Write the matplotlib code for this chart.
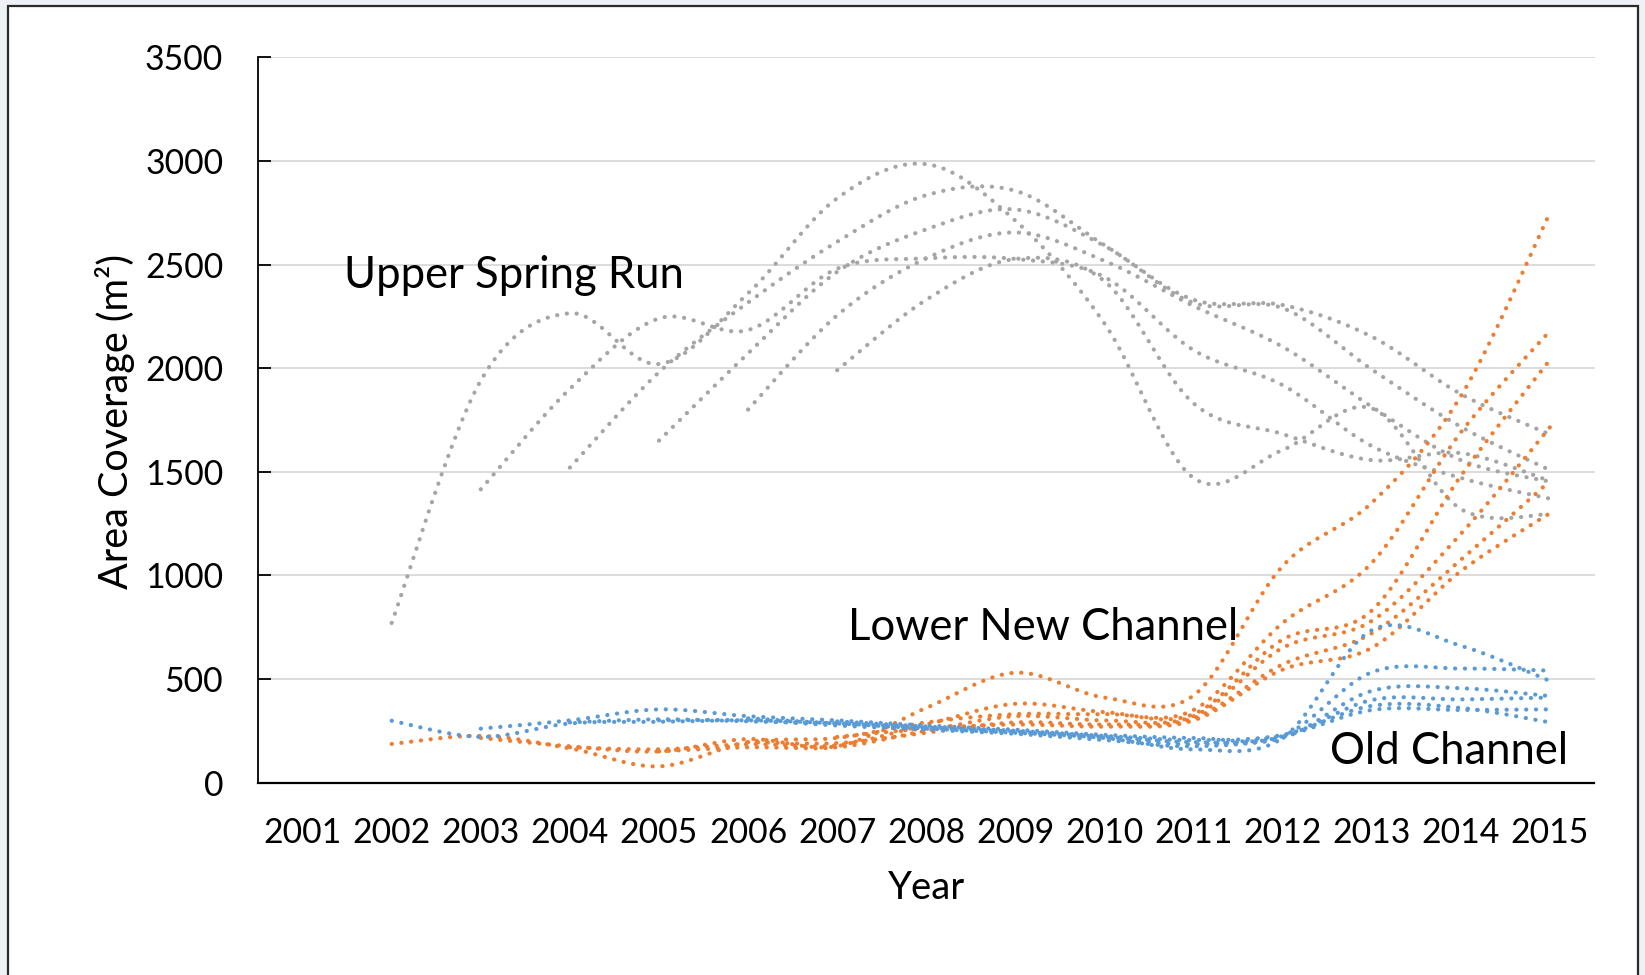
import numpy as np
import matplotlib
matplotlib.use("Agg")
import matplotlib.pyplot as plt
from matplotlib.patches import Rectangle

plt.rcParams['font.family'] = ['Lato', 'DejaVu Sans']

years = [str(y) for y in range(2001, 2016)]
yticks = [0, 500, 1000, 1500, 2000, 2500, 3000, 3500]

# Upper Spring Run (grey) - one cohort per start year
upper_a = [None, 770, 1940, 2265, 2020, 2361, 2820, 2985, 2712, 2216, 1470, 1605, 1806, 1320, 1295]
upper_b = [None, None, 1415, 1900, 2240, 2184, 2480, 2530, 2527, 2440, 2087, 1918, 1624, 1470, 1370]
upper_c = [None, None, None, 1520, 1980, 2317, 2610, 2835, 2856, 2594, 2330, 2305, 2152, 1875, 1680]
upper_d = [None, None, None, None, 1650, 2071, 2465, 2670, 2766, 2590, 2315, 2290, 1994, 1717, 1508]
upper_e = [None, None, None, None, None, 1800, 2255, 2530, 2655, 2518, 2300, 2103, 1814, 1556, 1452]
upper_f = [None, None, None, None, None, None, 1990, 2330, 2527, 2420, 1830, 1682, 1556, 1590, 1455]

# Lower New Channel (orange)
lower_a = [None, 186, 225, 165, 78, 195, 215, 290, 330, 330, 350, 770, 1060, 1690, 2180]
lower_b = [None, None, 215, 175, 150, 210, 175, 360, 530, 410, 420, 1045, 1350, 1865, 2750]
lower_c = [None, None, None, 170, 160, 185, 180, 280, 380, 340, 330, 690, 830, 1480, 2040]
lower_d = [None, None, None, None, 150, 170, 170, 250, 320, 300, 320, 650, 780, 1200, 1715]
lower_e = [None, None, None, None, None, 195, 190, 240, 290, 280, 310, 570, 720, 1075, 1455]
lower_f = [None, None, None, None, None, None, 220, 260, 280, 270, 300, 545, 650, 1020, 1300]

# Old Channel (blue)
old_a = [None, 298, 220, 285, 293, 300, 285, 260, 240, 215, 160, 215, 735, 660, 490]
old_b = [None, None, 260, 300, 353, 320, 300, 275, 255, 230, 215, 225, 532, 550, 540]
old_c = [None, None, None, 290, 305, 295, 285, 265, 245, 220, 195, 215, 442, 455, 417]
old_d = [None, None, None, None, 300, 300, 275, 255, 235, 205, 175, 220, 398, 401, 410]
old_e = [None, None, None, None, None, 310, 285, 260, 245, 215, 185, 225, 350, 350, 353]
old_f = [None, None, None, None, None, None, 295, 270, 250, 225, 205, 230, 370, 360, 290]

GREY = '#A5A5A5'
ORANGE = '#ED7D31'
BLUE = '#5B9BD5'


def smooth_path(vals, n=40):
    """Excel-like smoothed line (Catmull-Rom Bezier) through the data points."""
    pts = np.array([(i, v) for i, v in enumerate(vals) if v is not None], float)
    segs = []
    m = len(pts)
    for i in range(m - 1):
        p0 = pts[i - 1] if i > 0 else pts[i]
        p1 = pts[i]
        p2 = pts[i + 1]
        p3 = pts[i + 2] if i + 2 < m else pts[i + 1]
        c1 = p1 + (p2 - p0) / 6.0
        c2 = p2 - (p3 - p1) / 6.0
        t = np.linspace(0, 1, n, endpoint=(i == m - 2))[:, None]
        b = ((1 - t) ** 3) * p1 + 3 * (1 - t) ** 2 * t * c1 + 3 * (1 - t) * t ** 2 * c2 + t ** 3 * p2
        segs.append(b)
    s = np.vstack(segs)
    return s[:, 0], s[:, 1]


W, H = 1645, 975
fig = plt.figure(figsize=(W / 100, H / 100), dpi=100)
fig.patch.set_facecolor('#eef1f5')
fig.patches.append(Rectangle((8.4 / W, -0.05), (1638 - 8.4) / W, 1.05 - 6.3 / H,
                             transform=fig.transFigure, facecolor='white',
                             edgecolor='#2b2b2b', lw=1.6, zorder=-10))

ax_l, ax_r, ax_t, ax_b = 258, 1594.5, 57.4, 782.5
ax = fig.add_axes([ax_l / W, 1 - ax_b / H, (ax_r - ax_l) / W, (ax_b - ax_t) / H])
ax.set_facecolor('white')

dot = (0, (0.05, 2.3))
for group, col in (((upper_a, upper_b, upper_c, upper_d, upper_e, upper_f), GREY),
                   ((lower_a, lower_b, lower_c, lower_d, lower_e, lower_f), ORANGE),
                   ((old_a, old_b, old_c, old_d, old_e, old_f), BLUE)):
    for s in group:
        xs, ys = smooth_path(s)
        ax.plot(xs, ys, color=col, lw=3.0, linestyle=dot, dash_capstyle='round',
                solid_capstyle='round', zorder=3)

ax.set_xlim(-0.5, len(years) - 0.5)
ax.set_ylim(0, 3500)
ax.set_xticks(range(len(years)))
ax.set_xticklabels(years)
ax.set_yticks(yticks)
ax.set_yticklabels([str(v) for v in yticks])
ax.grid(axis='y', color='#D9D9D9', lw=1.3, zorder=0)
ax.set_axisbelow(True)
for side in ('top', 'right'):
    ax.spines[side].set_visible(False)
ax.spines['left'].set_color('black')
ax.spines['left'].set_linewidth(1.3)
ax.spines['bottom'].set_color('black')
ax.spines['bottom'].set_linewidth(1.6)
ax.tick_params(axis='y', direction='in', length=9, width=1.3, pad=25, labelsize=24.3, colors='black')
ax.tick_params(axis='x', length=0, pad=25, labelsize=24.3, colors='black')

fig.text(926 / W, 1 - 888 / H, 'Year', ha='center', va='center', fontsize=27.5)
fig.text(115 / W, 1 - 421 / H, 'Area Coverage (m²)', ha='center', va='center',
         rotation=90, fontsize=28.5)

fig.text(344 / W, 1 - 288 / H, 'Upper Spring Run', ha='left', va='baseline', fontsize=31.4)
fig.text(848 / W, 1 - 640 / H, 'Lower New Channel', ha='left', va='baseline', fontsize=31.4)
fig.text(1330 / W, 1 - 764 / H, 'Old Channel', ha='left', va='baseline', fontsize=31.4)

fig.savefig('out.png', dpi=100, facecolor=fig.get_facecolor())
